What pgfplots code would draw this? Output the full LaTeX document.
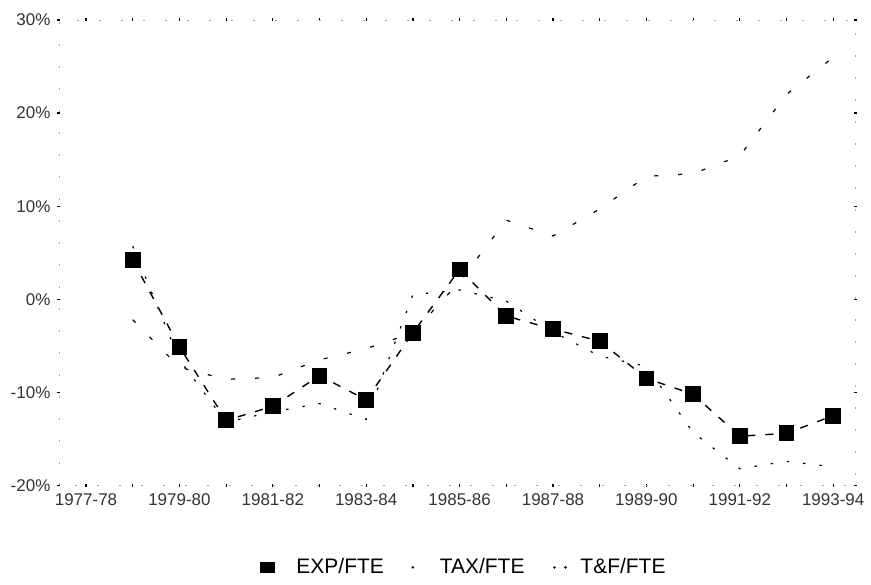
\documentclass[border=0pt]{standalone}
\usepackage{pgfplots}
\pgfplotsset{compat=1.18}
\usepackage{fontspec}
\setmainfont{Liberation Sans}
\begin{document}
\begin{tikzpicture}
\begin{axis}[
  scale only axis, width=398.5pt, height=233pt,
  xmin=-0.58, xmax=16.47, ymin=-20, ymax=30,
  xtick={0,...,16},
  xticklabels={1977-78,,1979-80,,1981-82,,1983-84,,1985-86,,1987-88,,1989-90,,1991-92,,1993-94},
  ytick={-20,-10,0,10,20,30},
  yticklabels={-20\%,-10\%,0\%,10\%,20\%,30\%},
  tick label style={font=\fontsize{8.5}{10}\selectfont, text=black!80},
  axis line style={black!35, line width=0.4pt, dash pattern=on 1pt off 10pt},
  tick style={black, line width=0.6pt}, major tick length=1.5pt, tick align=center,
  legend style={draw=none, fill=none, at={(0.51,-0.176)}, anchor=center,
    font=\fontsize{10.5}{12}\selectfont, legend columns=3,
    /tikz/every even column/.append style={column sep=8pt}},
]
\addplot[black, line width=0.7pt, dash pattern=on 4pt off 5pt, mark=square*, mark size=3.6pt,
  mark options={solid},
  legend image code/.code={\path[draw=none,fill=none] (0pt,-3pt) rectangle (16pt,3pt); \path[draw=none,fill=black] (0pt,-2.6pt) rectangle (7.5pt,2.6pt);}]
coordinates {(1,4.2)(2,-5.1)(3,-13.0)(4,-11.5)(5,-8.2)(6,-10.8)(7,-3.6)(8,3.2)(9,-1.8)(10,-3.2)(11,-4.5)(12,-8.5)(13,-10.2)(14,-14.7)(15,-14.4)(16,-12.5)};
\addlegendentry{EXP/FTE}
\addplot[black, line width=0.6pt, dash pattern=on 1.2pt off 7pt,
  legend image code/.code={\path[draw=none,fill=none] (0pt,-3pt) rectangle (16pt,3pt); \path[draw=none,fill=black] (4.5pt,0pt) circle (0.7pt);}]
coordinates {(1,5.7)(2,-6.5)(3,-13.2)(4,-12.1)(5,-11.2)(6,-12.9)(7,0.5)(8,1.0)(9,-0.2)(10,-3.5)(11,-6.1)(12,-7.2)(13,-14.3)(14,-18.2)(15,-17.4)(16,-18.0)};
\addlegendentry{TAX/FTE}
\addplot[black, line width=0.6pt, dash pattern=on 2pt off 10pt,
  legend image code/.code={\path[draw=none,fill=none] (0pt,-3pt) rectangle (16pt,3pt); \path[draw=none,fill=black] (5pt,0pt) circle (0.7pt); \path[draw=none,fill=black] (10.5pt,0pt) circle (0.7pt);}]
coordinates {(1,-2.2)(2,-7.3)(3,-8.6)(4,-8.4)(5,-6.5)(6,-5.3)(7,-3.6)(8,1.9)(9,8.5)(10,6.8)(11,9.7)(12,13.2)(13,13.5)(14,15.4)(15,22.0)(16,26.0)};
\addlegendentry{T\&F/FTE}
\end{axis}
\path ([xshift=-29.5pt,yshift=-48pt]current axis.south west) rectangle ([xshift=7.5pt,yshift=10pt]current axis.north east);
\end{tikzpicture}
\end{document}
